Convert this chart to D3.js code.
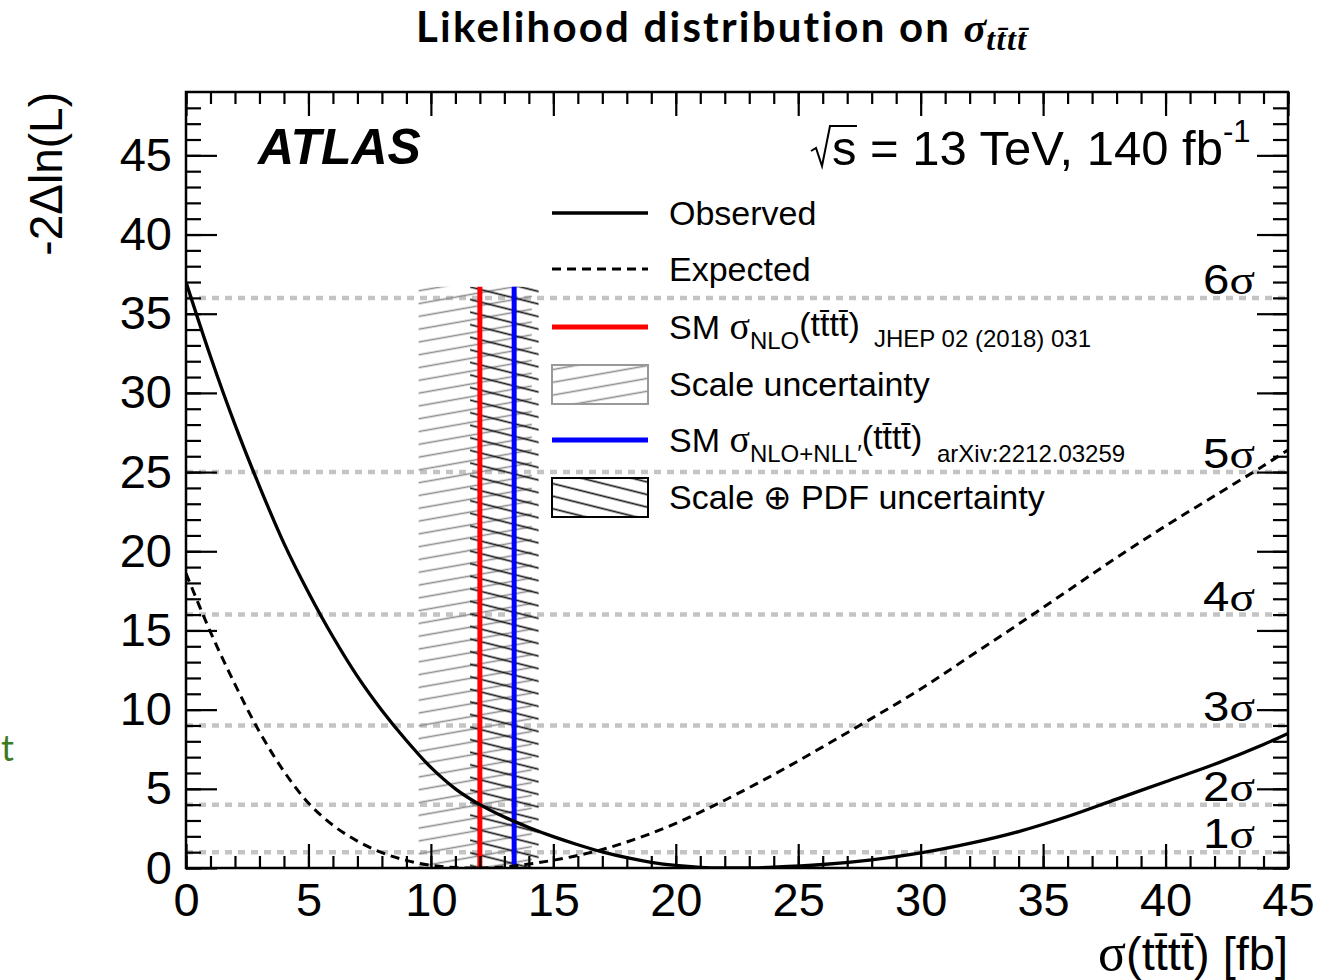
<!DOCTYPE html>
<html>
<head>
<meta charset="utf-8">
<script src="https://cdn.jsdelivr.net/npm/d3@7"></script>
<style>
  html, body { margin: 0; padding: 0; background: #ffffff; }
  svg { display: block; }
</style>
</head>
<body>
<svg id="chart" width="1326" height="980"></svg>
<script>
// ---- Likelihood scan of the four-top-quark cross section ----

// Observed profile likelihood scan: sigma(tttt) [fb] and -2 Delta ln L
const obsSigma = [0, 1, 2, 3, 4, 5, 6, 7, 8, 9, 10, 11, 12, 13, 14, 15, 16, 17, 18, 19, 20, 21, 22, 23, 24, 26, 28, 30, 32, 34, 36, 38, 40, 42, 44, 45];
const obsNll   = [37.0, 32.3, 28.0, 24.1, 20.5, 17.4, 14.6, 12.1, 9.95, 8.05, 6.35, 5.0, 4.0, 3.22, 2.56, 1.98, 1.47, 1.02, 0.65, 0.36, 0.16, 0.04, 0.0, 0.01, 0.05, 0.22, 0.52, 0.95, 1.55, 2.3, 3.25, 4.35, 5.45, 6.55, 7.8, 8.5];

// Expected (SM Asimov) scan
const expSigma = [0, 1, 2, 3, 4, 5, 6, 7, 8, 9, 10, 11, 12, 13, 14, 15, 16, 17, 18, 19, 20, 21, 22, 24, 26, 28, 30, 32, 34, 36, 38, 40, 42, 44, 45];
const expNll   = [18.6, 14.9, 11.6, 8.6, 6.1, 4.1, 2.7, 1.7, 0.97, 0.48, 0.17, 0.03, 0.0, 0.07, 0.25, 0.49, 0.79, 1.17, 1.64, 2.19, 2.82, 3.53, 4.28, 5.9, 7.65, 9.45, 11.3, 13.35, 15.4, 17.5, 19.6, 21.6, 23.5, 25.4, 26.4];

// Significance reference levels (n sigma -> n^2)
const sigmaLevels = [1, 4, 9, 16, 25, 36];
const sigmaNames  = ["1", "2", "3", "4", "5", "6"];

// SM predictions [fb]
const smNlo = 12.0,  smNloLo = 9.5,  smNloHi = 14.12;   // NLO, scale uncertainty
const smNll = 13.4,  smNllLo = 11.6, smNllHi = 14.4;    // NLO+NLL', scale (+) PDF
const bandTop = 36.7;

// Axis ticks
const xMajor = [0, 5, 10, 15, 20, 25, 30, 35, 40, 45];
const yMajor = [0, 5, 10, 15, 20, 25, 30, 35, 40, 45];
const xDomain = [0, 45];
const yDomain = [0, 49];

// ---------------------------------------------------------------
const svg = d3.select("#chart");
const L = 186, R = 1288, T = 92, B = 868;

const x = d3.scaleLinear().domain(xDomain).range([L, R]);
const y = d3.scaleLinear().domain(yDomain).range([B, T]);

const SANS = "'Liberation Sans', Arial, Helvetica, sans-serif";
const SERIF = "'Liberation Serif', 'Times New Roman', serif";
const TBAR = "t\u0304";

const defs = svg.append("defs");
defs.append("clipPath").attr("id", "frame-clip")
  .append("rect").attr("x", L).attr("y", T).attr("width", R - L).attr("height", B - T);

function hatch(id, angle, spacing, color, width) {
  const p = defs.append("pattern").attr("id", id)
    .attr("patternUnits", "userSpaceOnUse")
    .attr("width", 20).attr("height", spacing)
    .attr("patternTransform", `rotate(${angle})`);
  p.append("line").attr("x1", -2).attr("x2", 22)
    .attr("y1", spacing / 2).attr("y2", spacing / 2)
    .attr("stroke", color).attr("stroke-width", width);
}
hatch("hatch-scale", -10, 12.6, "#8f8f8f", 1.6);
hatch("hatch-pdf", 14, 12.2, "#1a1a1a", 1.7);

const plot = svg.append("g").attr("clip-path", "url(#frame-clip)");

// n-sigma reference lines
plot.selectAll("line.level").data(sigmaLevels).join("line")
  .attr("class", "level")
  .attr("x1", L).attr("x2", R)
  .attr("y1", d => y(d)).attr("y2", d => y(d))
  .attr("stroke", "#c4c4c4").attr("stroke-width", 4.5)
  .attr("stroke-dasharray", "7,6");

// uncertainty bands
plot.append("rect")
  .attr("x", x(smNloLo)).attr("width", x(smNloHi) - x(smNloLo))
  .attr("y", y(bandTop)).attr("height", y(0) - y(bandTop))
  .attr("fill", "url(#hatch-scale)");
plot.append("rect")
  .attr("x", x(smNllLo)).attr("width", x(smNllHi) - x(smNllLo))
  .attr("y", y(bandTop)).attr("height", y(0) - y(bandTop))
  .attr("fill", "url(#hatch-pdf)");

// SM central values
[[smNlo, "#ff0000"], [smNll, "#0000ff"]].forEach(([v, c]) => {
  plot.append("line")
    .attr("x1", x(v)).attr("x2", x(v))
    .attr("y1", y(0)).attr("y2", y(bandTop))
    .attr("stroke", c).attr("stroke-width", 5);
});

// likelihood curves
const line = d3.line().x(d => x(d[0])).y(d => y(d[1])).curve(d3.curveCatmullRom.alpha(0.5));
plot.append("path")
  .datum(expSigma.map((s, i) => [s, expNll[i]]))
  .attr("d", line).attr("fill", "none")
  .attr("stroke", "#000").attr("stroke-width", 3)
  .attr("stroke-dasharray", "9,6");
plot.append("path")
  .datum(obsSigma.map((s, i) => [s, obsNll[i]]))
  .attr("d", line).attr("fill", "none")
  .attr("stroke", "#000").attr("stroke-width", 3.3);

// ---- axes with inward ticks on all four sides ----
const xMinor = d3.range(xDomain[0], xDomain[1] + 1, 1);
const yMinor = d3.range(yDomain[0], yDomain[1], 1);

function styleAxis(g) {
  g.select(".domain").remove();
  g.selectAll(".tick line").attr("stroke", "#000").attr("stroke-width", 2.2);
}

svg.append("g").attr("transform", `translate(0,${B})`)
  .call(d3.axisBottom(x).tickValues(xMinor).tickSize(-12).tickFormat(""))
  .call(styleAxis);
svg.append("g").attr("transform", `translate(0,${T})`)
  .call(d3.axisTop(x).tickValues(xMinor).tickSize(-12).tickFormat(""))
  .call(styleAxis);
svg.append("g").attr("transform", `translate(0,${T})`)
  .call(d3.axisTop(x).tickValues(xMajor).tickSize(-24).tickFormat(""))
  .call(styleAxis);
const xAx = svg.append("g").attr("transform", `translate(0,${B})`)
  .call(d3.axisBottom(x).tickValues(xMajor).tickSize(-24).tickPadding(15).tickFormat(d3.format("d")))
  .call(styleAxis);
xAx.selectAll("text").attr("font-family", SANS).attr("font-size", 47).attr("fill", "#000");

svg.append("g").attr("transform", `translate(${L},0)`)
  .call(d3.axisLeft(y).tickValues(yMinor).tickSize(-15).tickFormat(""))
  .call(styleAxis);
svg.append("g").attr("transform", `translate(${R},0)`)
  .call(d3.axisRight(y).tickValues(yMinor).tickSize(-15).tickFormat(""))
  .call(styleAxis);
svg.append("g").attr("transform", `translate(${R},0)`)
  .call(d3.axisRight(y).tickValues(yMajor).tickSize(-31).tickFormat(""))
  .call(styleAxis);
const yAx = svg.append("g").attr("transform", `translate(${L},0)`)
  .call(d3.axisLeft(y).tickValues(yMajor).tickSize(-31).tickPadding(14).tickFormat(d3.format("d")))
  .call(styleAxis);
yAx.selectAll("text").attr("font-family", SANS).attr("font-size", 47).attr("fill", "#000");

// frame
svg.append("rect").attr("x", L).attr("y", T).attr("width", R - L).attr("height", B - T)
  .attr("fill", "none").attr("stroke", "#000").attr("stroke-width", 2.5);

// n-sigma labels (slightly widened glyphs)
const lvl = svg.append("g");
sigmaLevels.forEach((v, i) => {
  const t = lvl.append("text")
    .attr("transform", `translate(1255,${y(v) - 4}) scale(1.13,1)`)
    .attr("text-anchor", "end").attr("font-size", 42).attr("fill", "#000");
  t.append("tspan").attr("font-family", SANS).text(sigmaNames[i]);
  t.append("tspan").attr("font-family", SERIF).text("σ");
});

// ---- axis titles ----
svg.append("text")
  .attr("transform", `translate(62,${T}) rotate(-90)`)
  .attr("text-anchor", "end").attr("font-family", SANS).attr("font-size", 46)
  .text("-2Δln(L)");

const xt = svg.append("text")
  .attr("x", R).attr("y", 970).attr("text-anchor", "end")
  .attr("font-size", 47).attr("fill", "#000");
xt.append("tspan").attr("font-family", SERIF).attr("font-size", 52).text("σ");
xt.append("tspan").attr("font-family", SANS).text("(t" + TBAR + "t" + TBAR + ") [fb]");

// ---- title ----
const title = svg.append("text")
  .attr("x", 416).attr("y", 42)
  .attr("fill", "#000");
title.append("tspan").attr("font-family", "Lato, 'Open Sans', sans-serif")
  .attr("font-weight", 700).attr("font-size", 42).attr("letter-spacing", 2.2)
  .text("Likelihood distribution on ");
title.append("tspan").attr("font-family", SERIF).attr("font-style", "italic")
  .attr("font-weight", 700).attr("font-size", 42).text("σ");
title.append("tspan").attr("font-family", SERIF).attr("font-style", "italic")
  .attr("font-weight", 700).attr("font-size", 32).attr("dy", 8).attr("letter-spacing", 1.5)
  .text("t" + TBAR + "t" + TBAR);

// stray margin glyph
svg.append("text").attr("x", 14).attr("y", 761).attr("text-anchor", "end")
  .attr("font-family", "Lato, sans-serif").attr("font-size", 36).attr("fill", "#3d7a1f")
  .text("t");

// ---- ATLAS label and energy / luminosity ----
svg.append("text").attr("x", 258).attr("y", 164)
  .attr("font-family", SANS).attr("font-weight", 700).attr("font-style", "italic")
  .attr("font-size", 50).text("ATLAS");

svg.append("path")
  .attr("d", "M811,151 L816,148 L822,166 L830,126 L857,126")
  .attr("fill", "none").attr("stroke", "#000").attr("stroke-width", 2);
const lumi = svg.append("text").attr("x", 832).attr("y", 165)
  .attr("font-family", SANS).attr("font-size", 49);
lumi.append("tspan").text("s = 13 TeV, 140 fb");
lumi.append("tspan").attr("font-size", 31).attr("dy", -23).text("-1");

// ---- legend ----
const legend = svg.append("g");
const lx0 = 552, lx1 = 648, tx = 669;
const rows = [213, 269, 327, 384, 440, 497];

legend.append("line").attr("x1", lx0).attr("x2", lx1).attr("y1", rows[0]).attr("y2", rows[0])
  .attr("stroke", "#000").attr("stroke-width", 3.3);
legend.append("line").attr("x1", lx0).attr("x2", lx1).attr("y1", rows[1]).attr("y2", rows[1])
  .attr("stroke", "#000").attr("stroke-width", 3).attr("stroke-dasharray", "9,6");
legend.append("line").attr("x1", lx0).attr("x2", lx1).attr("y1", rows[2]).attr("y2", rows[2])
  .attr("stroke", "#ff0000").attr("stroke-width", 5);
legend.append("rect").attr("x", lx0).attr("y", rows[3] - 19).attr("width", lx1 - lx0).attr("height", 39)
  .attr("fill", "url(#hatch-scale)").attr("stroke", "#999").attr("stroke-width", 2);
legend.append("line").attr("x1", lx0).attr("x2", lx1).attr("y1", rows[4]).attr("y2", rows[4])
  .attr("stroke", "#0000ff").attr("stroke-width", 5);
legend.append("rect").attr("x", lx0).attr("y", rows[5] - 19).attr("width", lx1 - lx0).attr("height", 39)
  .attr("fill", "url(#hatch-pdf)").attr("stroke", "#000").attr("stroke-width", 2);

function legText(row) {
  return legend.append("text").attr("x", tx).attr("y", row + 12)
    .attr("font-family", SANS).attr("font-size", 34).attr("fill", "#000");
}
legText(rows[0]).text("Observed");
legText(rows[1]).text("Expected");

const t3 = legText(rows[2]);
t3.append("tspan").text("SM ");
t3.append("tspan").attr("font-family", SERIF).attr("font-size", 38).text("σ");
t3.append("tspan").attr("font-size", 24).attr("dy", 10).text("NLO");
t3.append("tspan").attr("dy", -13).text("(t" + TBAR + "t" + TBAR + ")");
legend.append("text").attr("x", 874).attr("y", 347)
  .attr("font-family", SANS).attr("font-size", 24).text("JHEP 02 (2018) 031");

legText(rows[3]).text("Scale uncertainty");

const t5 = legText(rows[4]);
t5.append("tspan").text("SM ");
t5.append("tspan").attr("font-family", SERIF).attr("font-size", 38).text("σ");
t5.append("tspan").attr("font-size", 24).attr("dy", 10).text("NLO+NLL\u2032");
t5.append("tspan").attr("dy", -13).text("(t" + TBAR + "t" + TBAR + ")");
legend.append("text").attr("x", 937).attr("y", 462)
  .attr("font-family", SANS).attr("font-size", 24).text("arXiv:2212.03259");

legText(rows[5]).text("Scale \u2295 PDF uncertainty");
</script>
</body>
</html>
